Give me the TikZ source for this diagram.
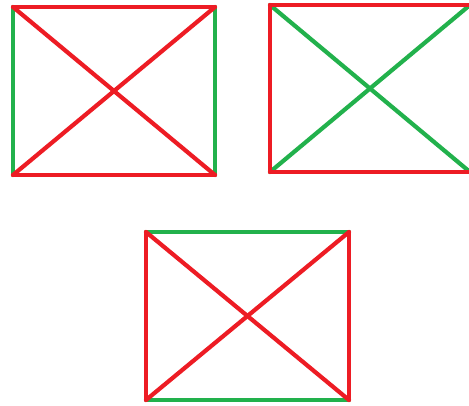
\documentclass[tikz,border=0pt]{standalone}
\begin{document}
\begin{tikzpicture}[x=1pt,y=-1pt,
  redl/.style={draw=pred,line width=4.2pt,line cap=round},
  greenl/.style={draw=pgreen,line width=4.2pt,line cap=round}]
\definecolor{pred}{HTML}{ED1C24}
\definecolor{pgreen}{HTML}{22B14C}
\useasboundingbox (0,0) rectangle (469,405);
\clip (0,0) rectangle (469,405);
% rectangle 1
\coordinate (a1) at (13,7);
\coordinate (b1) at (215,7);
\coordinate (c1) at (215,175);
\coordinate (d1) at (13,175);
\draw[greenl] (a1) -- (d1);
\draw[greenl] (b1) -- (c1);
\draw[redl] (a1) -- (b1);
\draw[redl] (d1) -- (c1);
\draw[redl] (a1) -- (c1);
\draw[redl] (d1) -- (b1);
% rectangle 2
\coordinate (a2) at (270,5);
\coordinate (b2) at (470,5);
\coordinate (c2) at (470,172);
\coordinate (d2) at (270,172);
\draw[greenl] (a2) -- (c2);
\draw[greenl] (d2) -- (b2);
\draw[redl] (a2) -- (b2);
\draw[redl] (d2) -- (c2);
\draw[redl] (a2) -- (d2);
% rectangle 3
\coordinate (a3) at (146,232);
\coordinate (b3) at (349,232);
\coordinate (c3) at (349,400);
\coordinate (d3) at (146,400);
\draw[greenl] (a3) -- (b3);
\draw[greenl] (d3) -- (c3);
\draw[redl] (a3) -- (d3);
\draw[redl] (b3) -- (c3);
\draw[redl] (a3) -- (c3);
\draw[redl] (d3) -- (b3);
\end{tikzpicture}
\end{document}
